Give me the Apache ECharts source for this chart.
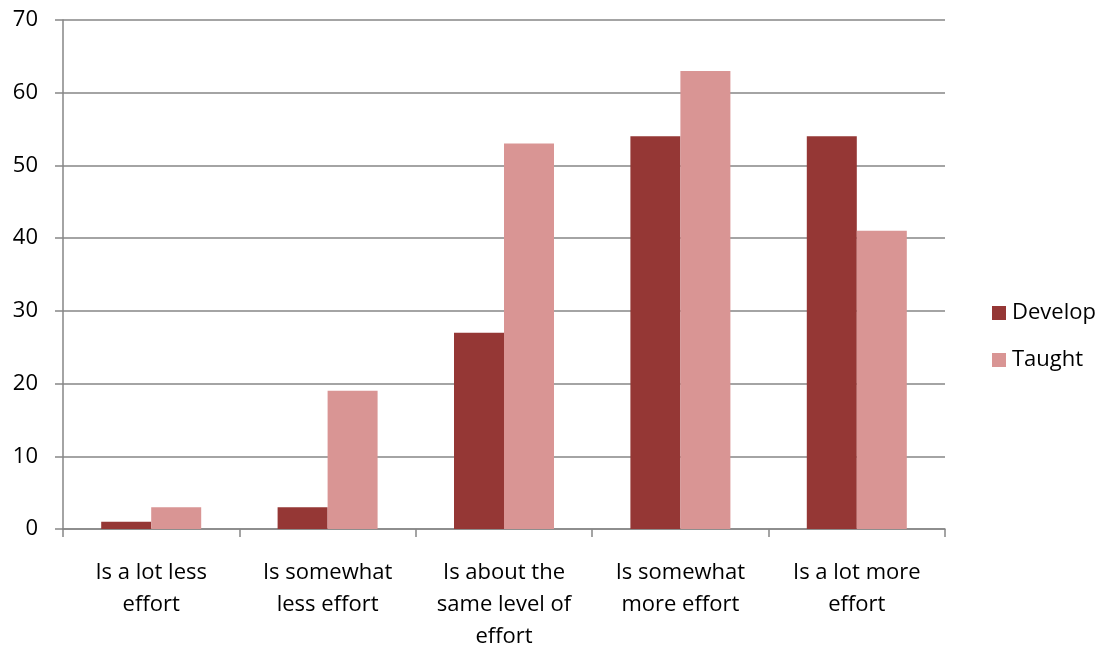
<!DOCTYPE html>
<html>
<head>
<meta charset="utf-8">
<script src="https://cdn.jsdelivr.net/npm/echarts@6/dist/echarts.min.js"></script>
<style>
  html, body { margin: 0; padding: 0; background: #fff; }
  #chart { width: 1102px; height: 647px; }
</style>
</head>
<body>
<div id="chart"></div>
<script>
// Effort categories along the x axis
const categories = [
  'Is a lot less\neffort',
  'Is somewhat\nless effort',
  'Is about the\nsame level of\neffort',
  'Is somewhat\nmore effort',
  'Is a lot more\neffort'
];
const developValues = [1, 3, 27, 54, 54];
const taughtValues = [3, 19, 53, 63, 41];
const seriesNames = ['Develop', 'Taught'];

const FONT = '"Open Sans", Lato, sans-serif';
const axisGray = '#868686';

const chart = echarts.init(document.getElementById('chart'));
chart.setOption({
  backgroundColor: '#ffffff',
  animation: false,
  textStyle: { fontFamily: FONT },
  grid: {
    left: 63, right: 157, top: 20, bottom: 118,
    containLabel: false, outerBoundsMode: 'none'
  },
  legend: {
    orient: 'vertical',
    left: 987,
    top: 297,
    itemWidth: 14,
    itemHeight: 14,
    itemGap: 25,
    icon: 'rect',
    data: seriesNames,
    textStyle: { fontFamily: FONT, fontSize: 22, color: '#000', padding: [0, 0, 0, 1] }
  },
  xAxis: {
    type: 'category',
    data: categories,
    axisLine: { lineStyle: { color: axisGray, width: 1.5 } },
    axisTick: { show: true, alignWithLabel: false, length: 8, lineStyle: { color: axisGray, width: 1.5 } },
    axisLabel: {
      fontFamily: FONT, fontSize: 22, color: '#000',
      lineHeight: 32, margin: 28, interval: 0
    }
  },
  yAxis: {
    type: 'value',
    min: 0, max: 70, interval: 10,
    axisLine: { show: true, lineStyle: { color: axisGray, width: 1.5 } },
    axisTick: { show: true, length: 8, lineStyle: { color: axisGray, width: 1.5 } },
    splitLine: { lineStyle: { color: axisGray, width: 1.5 } },
    axisLabel: { fontFamily: FONT, fontSize: 22, color: '#000', margin: 25 }
  },
  series: [
    {
      name: seriesNames[0], type: 'bar', data: developValues,
      barWidth: 50, barGap: '0%',
      itemStyle: { color: '#953735' }
    },
    {
      name: seriesNames[1], type: 'bar', data: taughtValues,
      barWidth: 50, barGap: '0%',
      itemStyle: { color: '#D99594' }
    }
  ]
});
</script>
</body>
</html>
